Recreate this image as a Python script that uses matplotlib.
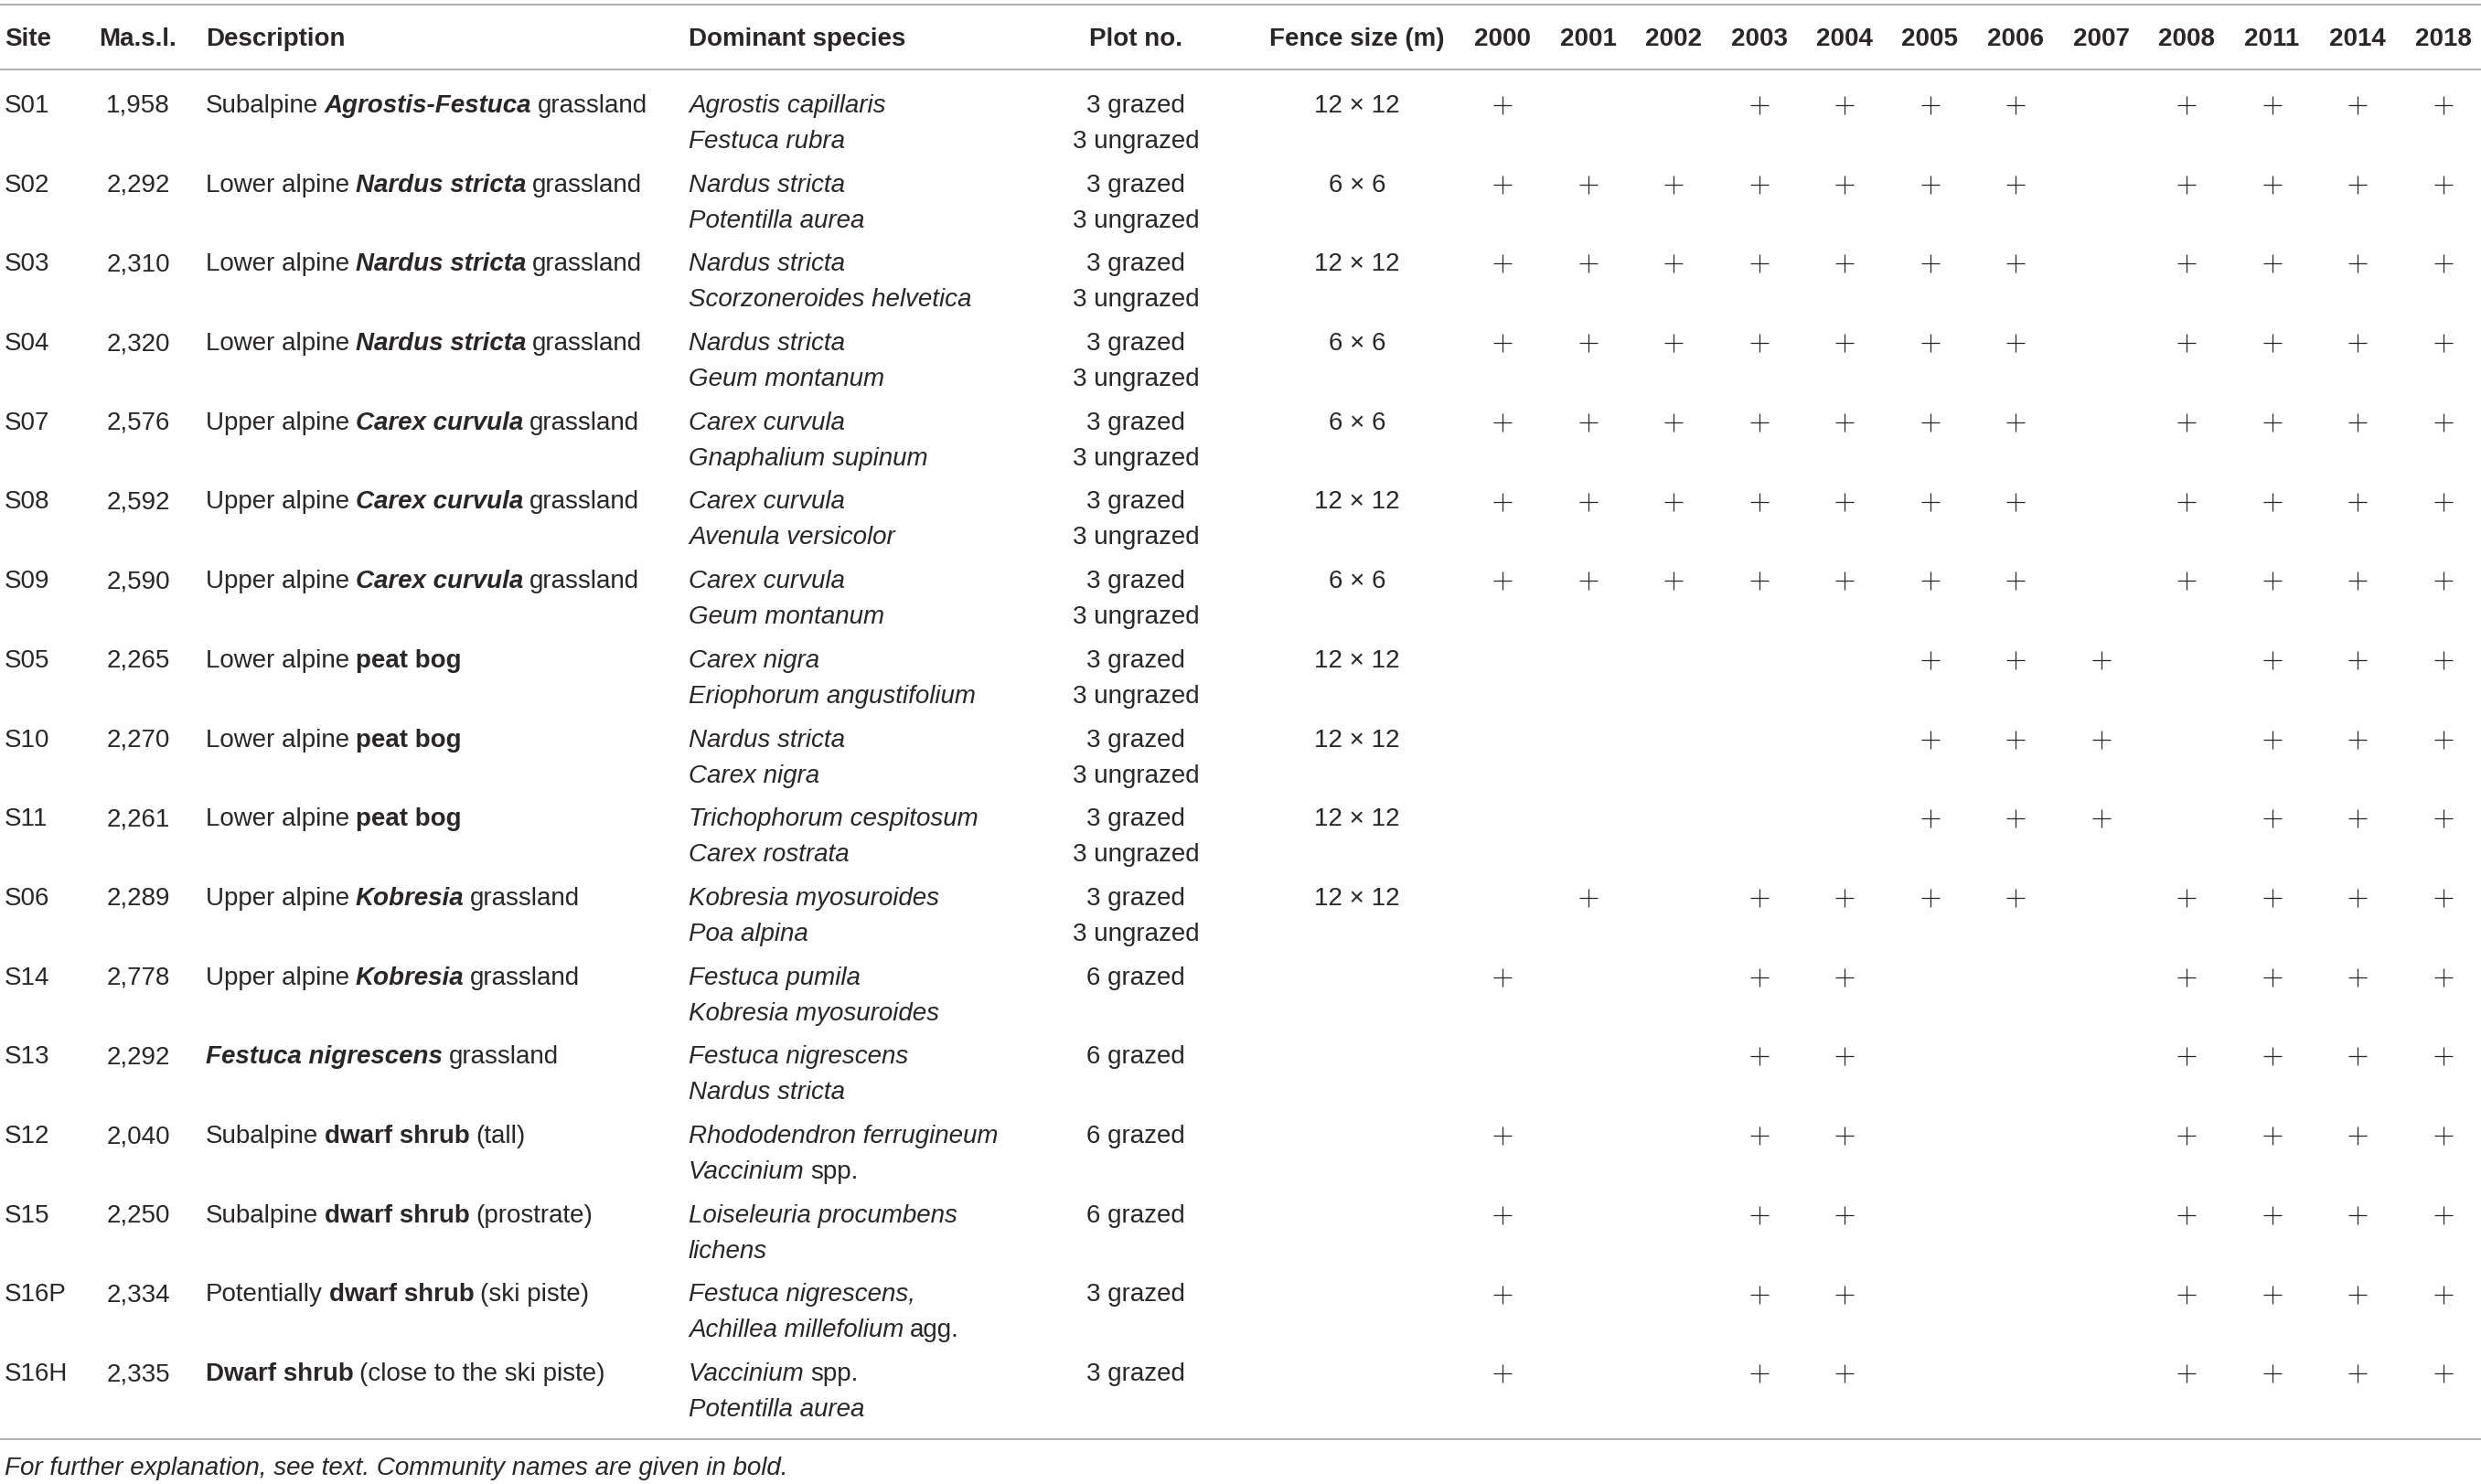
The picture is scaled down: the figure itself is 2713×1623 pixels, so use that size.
import matplotlib
matplotlib.use("Agg")
import matplotlib.pyplot as plt

# table content
sites = ["S01", "S02", "S03", "S04", "S07", "S08", "S09", "S05", "S10", "S11",
         "S06", "S14", "S13", "S12", "S15", "S16P", "S16H"]
elevation = ["1,958", "2,292", "2,310", "2,320", "2,576", "2,592", "2,590", "2,265",
             "2,270", "2,261", "2,289", "2,778", "2,292", "2,040", "2,250", "2,334", "2,335"]
desc_prefix = ["Subalpine", "Lower alpine", "Lower alpine", "Lower alpine", "Upper alpine",
               "Upper alpine", "Upper alpine", "Lower alpine", "Lower alpine", "Lower alpine",
               "Upper alpine", "Upper alpine", "", "Subalpine", "Subalpine", "Potentially", ""]
desc_bold = ["Agrostis-Festuca", "Nardus stricta", "Nardus stricta", "Nardus stricta",
             "Carex curvula", "Carex curvula", "Carex curvula", "peat bog", "peat bog", "peat bog",
             "Kobresia", "Kobresia", "Festuca nigrescens", "dwarf shrub", "dwarf shrub",
             "dwarf shrub", "Dwarf shrub"]
desc_suffix = ["grassland", "grassland", "grassland", "grassland", "grassland", "grassland",
               "grassland", "", "", "", "grassland", "grassland", "grassland", "(tall)",
               "(prostrate)", "(ski piste)", "(close to the ski piste)"]
desc_taxon = [True, True, True, True, True, True, True, False, False, False,
              True, True, True, False, False, False, False]
species_1 = ["Agrostis capillaris", "Nardus stricta", "Nardus stricta", "Nardus stricta",
             "Carex curvula", "Carex curvula", "Carex curvula", "Carex nigra", "Nardus stricta",
             "Trichophorum cespitosum", "Kobresia myosuroides", "Festuca pumila",
             "Festuca nigrescens", "Rhododendron ferrugineum", "Loiseleuria procumbens",
             "Festuca nigrescens,", "Vaccinium spp."]
species_2 = ["Festuca rubra", "Potentilla aurea", "Scorzoneroides helvetica", "Geum montanum",
             "Gnaphalium supinum", "Avenula versicolor", "Geum montanum",
             "Eriophorum angustifolium", "Carex nigra", "Carex rostrata", "Poa alpina",
             "Kobresia myosuroides", "Nardus stricta", "Vaccinium spp.", "lichens",
             "Achillea millefolium agg.", "Potentilla aurea"]
plots_1 = ["3 grazed"] * 11 + ["6 grazed"] * 4 + ["3 grazed"] * 2
plots_2 = ["3 ungrazed"] * 11 + [""] * 6
fence = ["12 × 12", "6 × 6", "12 × 12", "6 × 6", "6 × 6", "12 × 12", "6 × 6", "12 × 12",
         "12 × 12", "12 × 12", "12 × 12", "", "", "", "", "", ""]
years = ["2000", "2001", "2002", "2003", "2004", "2005", "2006", "2007", "2008", "2011",
         "2014", "2018"]
all_but_2007 = ["2000", "2001", "2002", "2003", "2004", "2005", "2006", "2008", "2011", "2014", "2018"]
bog = ["2005", "2006", "2007", "2011", "2014", "2018"]
shrub = ["2000", "2003", "2004", "2008", "2011", "2014", "2018"]
surveys = [
    ["2000", "2003", "2004", "2005", "2006", "2008", "2011", "2014", "2018"],
    all_but_2007, all_but_2007, all_but_2007, all_but_2007, all_but_2007, all_but_2007,
    bog, bog, bog,
    ["2001", "2003", "2004", "2005", "2006", "2008", "2011", "2014", "2018"],
    shrub,
    ["2003", "2004", "2008", "2011", "2014", "2018"],
    shrub, shrub, shrub, shrub,
]
headers = ["Site", "Ma.s.l.", "Description", "Dominant species", "Plot no.", "Fence size (m)"]
footnote = "For further explanation, see text. Community names are given in bold."

W, H = 2713, 1624
FONT = "Liberation Sans"
FS = 20
INK = "#2a2627"

fig = plt.figure(figsize=(W / 100, H / 100), dpi=100)
ax = fig.add_axes([0, 0, 1, 1])
ax.set_xlim(0, W)
ax.set_ylim(H, 0)
ax.axis("off")

# column layout (pixels)
x_site, x_elev, x_desc, x_spec, x_plot, x_fence = 5, 151, 225, 753, 1242, 1484
x_years = [1643 + i * 93.5 for i in range(len(years))]
row0, row_step, line2 = 123, 86.7, 39
space = FS * 0.24


def txt(x, y, s, ha="left", weight="normal", style="normal", size=FS):
    return ax.text(x, y, s, ha=ha, va="baseline", fontsize=size, family=FONT,
                   fontweight=weight, fontstyle=style, color=INK)


def rich(x, y, pieces):
    prev = None
    for s, weight, style in pieces:
        if not s:
            continue
        if prev is None:
            prev = txt(x, y, s, weight=weight, style=style)
        else:
            prev = ax.annotate(s, xy=(1, 0), xycoords=prev, xytext=(space, 0),
                               textcoords="offset points", ha="left", va="bottom",
                               fontsize=FS, family=FONT, fontweight=weight,
                               fontstyle=style, color=INK)


def species(x, y, s):
    for tail in (" spp.", " agg."):
        if s.endswith(tail):
            rich(x, y, [(s[:-len(tail)], "normal", "italic"), (tail.strip(), "normal", "normal")])
            return
    txt(x, y, s, style="italic")


# rules
for y in (6, 77, 1575):
    ax.plot([0, W], [y, y], color="#a8a8a8", lw=1.3, solid_capstyle="butt")

# header
hy = 50
for x, h, ha in zip([x_site, x_elev, x_desc, x_spec, x_plot, x_fence], headers,
                    ["left", "center", "left", "left", "center", "center"]):
    txt(x, hy, h, ha=ha, weight="bold")
for x, yr in zip(x_years, years):
    txt(x, hy, yr, ha="center", weight="bold")

# body
for i, site in enumerate(sites):
    y = row0 + i * row_step
    txt(x_site, y, site)
    txt(x_elev, y, elevation[i], ha="center")
    rich(x_desc, y, [(desc_prefix[i], "normal", "normal"),
                     (desc_bold[i], "bold", "italic" if desc_taxon[i] else "normal"),
                     (desc_suffix[i], "normal", "normal")])
    species(x_spec, y, species_1[i])
    species(x_spec, y + line2, species_2[i])
    txt(x_plot, y, plots_1[i], ha="center")
    if plots_2[i]:
        txt(x_plot, y + line2, plots_2[i], ha="center")
    if fence[i]:
        txt(x_fence, y, fence[i], ha="center")
    xs = [x_years[years.index(yr)] for yr in surveys[i]]
    ax.scatter(xs, [y - 7] * len(xs), marker="+", s=210, lw=0.9, color=INK)

txt(x_site, 1613, footnote, style="italic", size=FS)

fig.savefig("out.png", dpi=100)
